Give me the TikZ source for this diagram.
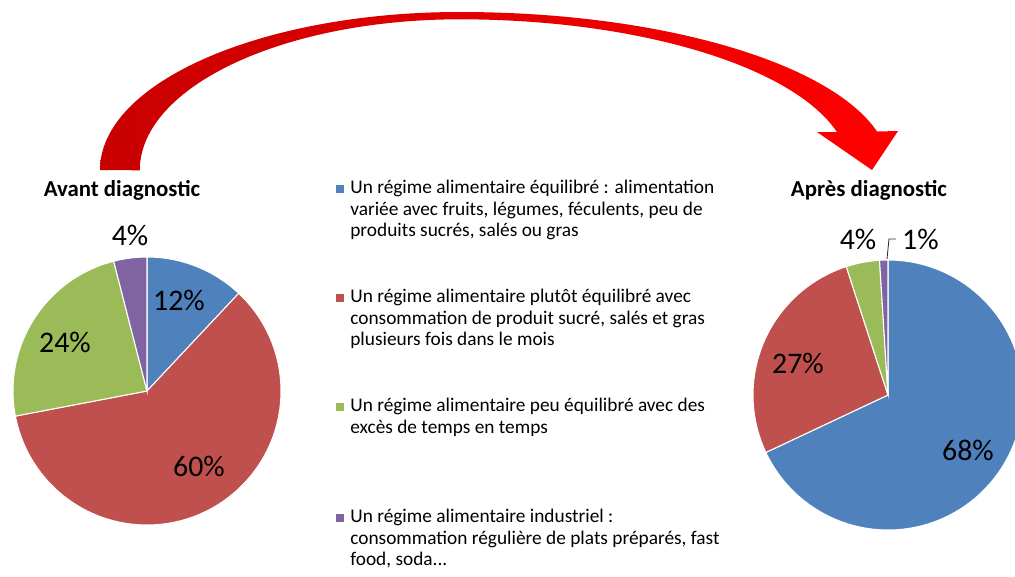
\documentclass[tikz,border=0pt]{standalone}
\usepackage{fontspec}
\setmainfont{Carlito}
\definecolor{legblue}{HTML}{4F81BD}
\definecolor{legred}{HTML}{C0504D}
\definecolor{leggreen}{HTML}{9BBB59}
\definecolor{legpurple}{HTML}{8064A2}
\definecolor{arrowdark}{RGB}{200,0,0}
\definecolor{arrowlight}{RGB}{255,0,0}
\begin{document}
\begin{tikzpicture}[
    x=0.02cm, y=0.02cm,
    slice/.style={fill=#1, draw=white, line width=0.6pt},
    pct/.style={font=\fontsize{17}{20}\selectfont},
    title/.style={font=\bfseries\fontsize{13}{15}\selectfont},
    legsq/.style={fill=#1, minimum size=0.16cm, inner sep=0pt},
    legtext/.style={anchor=north west, align=left, inner sep=0pt, font=\fontsize{11}{12.2}\selectfont}
]
    \useasboundingbox (0,0) rectangle (1015,576);
    \clip (0,0) rectangle (1015,576);

    % Curved arrow - before to after
    \shade[left color=arrowdark, right color=arrowlight]
        (100,406) arc[start angle=180, end angle=90, x radius=360, y radius=158]
        arc[start angle=90, end angle=14.1, x radius=430, y radius=158]
        -- (898,445) -- (872,406) -- (817,444) -- (837,444)
        arc[start angle=14.7, end angle=90, x radius=390, y radius=151]
        arc[start angle=90, end angle=180, x radius=320, y radius=151] -- cycle;

    % Pie 1 - Avant diagnostic
    \coordinate (avant) at (147,185);
    \fill[slice=legblue] (avant) -- ++(90:134) arc[start angle=90, end angle=46.8, radius=134] -- cycle;
    \fill[slice=legred] (avant) -- ++(46.8:134) arc[start angle=46.8, end angle=-169.2, radius=134] -- cycle;
    \fill[slice=leggreen] (avant) -- ++(-169.2:134) arc[start angle=-169.2, end angle=-255.6, radius=134] -- cycle;
    \fill[slice=legpurple] (avant) -- ++(-255.6:134) arc[start angle=-255.6, end angle=-270, radius=134] -- cycle;
    \node[title] (avanttitle) at (122,386) {Avant diagnostic};
    \node[pct] (av4) at (130,341) {4\%};
    \node[pct] (av12) at (179,276) {12\%};
    \node[pct] (av24) at (65,234) {24\%};
    \node[pct] (av60) at (199,110) {60\%};

    % Pie 2 - Apres diagnostic
    \coordinate (apres) at (888,181);
    \fill[slice=legblue] (apres) -- ++(90:135) arc[start angle=90, end angle=-154.8, radius=135] -- cycle;
    \fill[slice=legred] (apres) -- ++(-154.8:135) arc[start angle=-154.8, end angle=-252, radius=135] -- cycle;
    \fill[slice=leggreen] (apres) -- ++(-252:135) arc[start angle=-252, end angle=-266.4, radius=135] -- cycle;
    \fill[slice=legpurple] (apres) -- ++(-266.4:135) arc[start angle=-266.4, end angle=-270, radius=135] -- cycle;
    \node[title] (aprestitle) at (869,386) {Après diagnostic};
    \node[pct] (ap4) at (858,337) {4\%};
    \node[pct, anchor=west] (ap1) at (896,337) {1\%};
    \node[pct] (ap27) at (798,213) {27\%};
    \node[pct] (ap68) at (968,126) {68\%};
    \coordinate (ap1edge) at (887,317);
    \draw[black!80, line width=0.5pt] (ap1edge) -- (889,337) -- (ap1.west);

    % Legend
    \node[legsq=legblue] (sq1) at (339.5,387) {};
    \node[legtext] (leg1) at (350,396) {Un régime alimentaire équilibré : alimentation\\variée avec fruits, légumes, féculents, peu de\\produits sucrés, salés ou gras};
    \node[legsq=legred] (sq2) at (339.5,278) {};
    \node[legtext] (leg2) at (350,287) {Un régime alimentaire plutôt équilibré avec\\consommation de produit sucré, salés et gras\\plusieurs fois dans le mois};
    \node[legsq=leggreen] (sq3) at (339.5,169) {};
    \node[legtext] (leg3) at (350,178) {Un régime alimentaire peu équilibré avec des\\excès de temps en temps};
    \node[legsq=legpurple] (sq4) at (339.5,58) {};
    \node[legtext] (leg4) at (350,67) {Un régime alimentaire industriel :\\consommation régulière de plats préparés, fast\\food, soda...};
\end{tikzpicture}
\end{document}
